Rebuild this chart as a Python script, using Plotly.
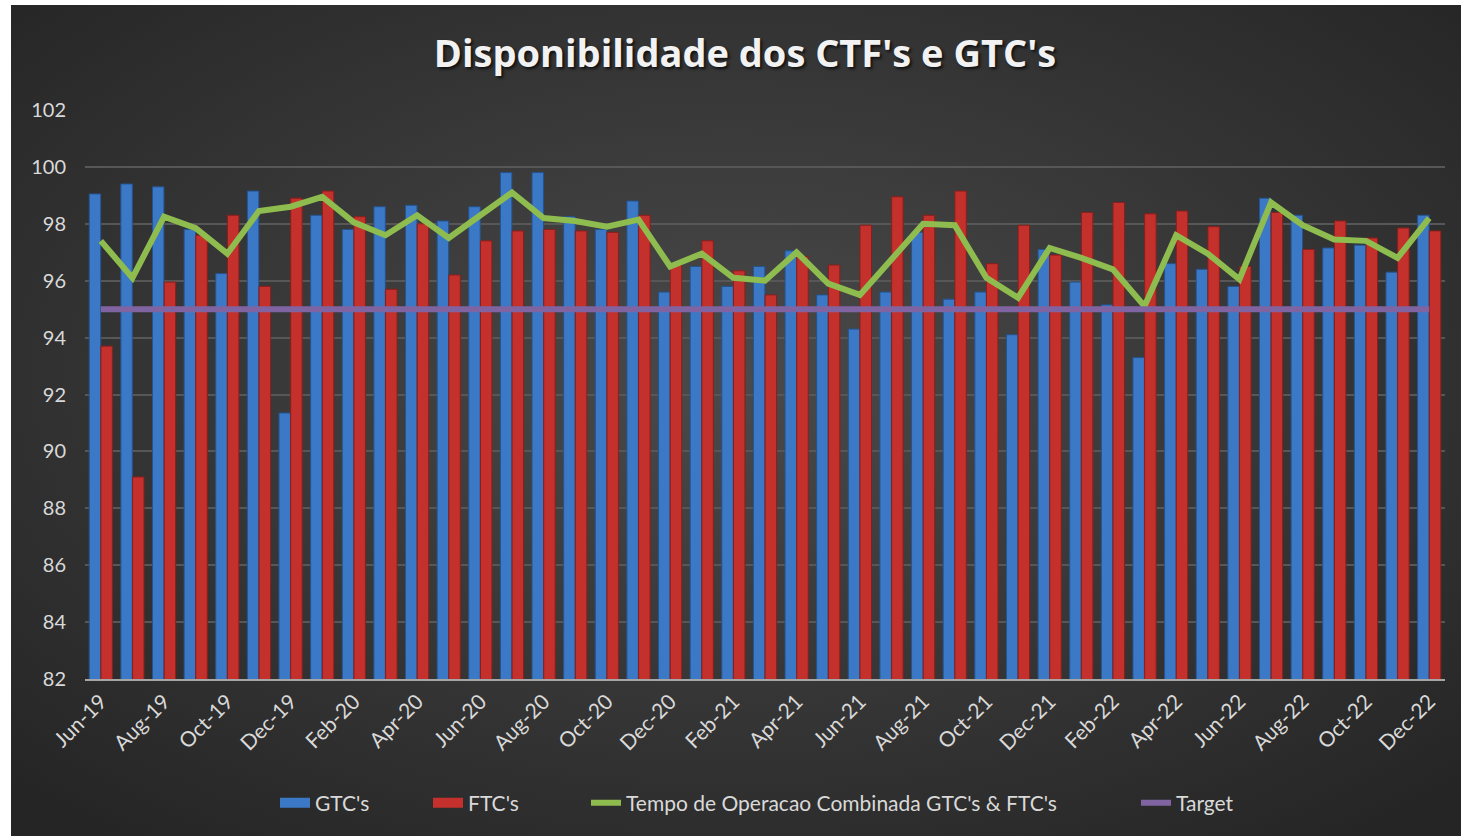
import base64
import plotly.graph_objects as go

# monthly values
months = [
    "Jun-19", "Jul-19", "Aug-19", "Sep-19", "Oct-19", "Nov-19", "Dec-19",
    "Jan-20", "Feb-20", "Mar-20", "Apr-20", "May-20", "Jun-20", "Jul-20",
    "Aug-20", "Sep-20", "Oct-20", "Nov-20", "Dec-20",
    "Jan-21", "Feb-21", "Mar-21", "Apr-21", "May-21", "Jun-21", "Jul-21",
    "Aug-21", "Sep-21", "Oct-21", "Nov-21", "Dec-21",
    "Jan-22", "Feb-22", "Mar-22", "Apr-22", "May-22", "Jun-22", "Jul-22",
    "Aug-22", "Sep-22", "Oct-22", "Nov-22", "Dec-22",
]

gtc = [
    99.05, 99.4, 99.3, 97.8, 96.25, 99.15, 91.35,
    98.3, 97.8, 98.6, 98.65, 98.1, 98.6, 99.8,
    99.8, 98.25, 97.8, 98.8, 95.6,
    96.5, 95.8, 96.5, 97.05, 95.5, 94.3, 95.6,
    97.7, 95.35, 95.6, 94.1, 97.1,
    95.95, 95.15, 93.3, 96.6, 96.4, 95.8, 98.9,
    98.3, 97.15, 97.25, 96.3, 98.3,
]

ftc = [
    93.7, 89.1, 95.95, 97.6, 98.3, 95.8, 98.9,
    99.15, 98.25, 95.7, 98.0, 96.2, 97.4, 97.75,
    97.8, 97.75, 97.7, 98.3, 96.55,
    97.4, 96.35, 95.5, 96.85, 96.55, 97.95, 98.95,
    98.3, 99.15, 96.6, 97.95, 96.9,
    98.4, 98.75, 98.35, 98.45, 97.9, 96.5, 98.4,
    97.1, 98.1, 97.5, 97.85, 97.75,
]

combined = [
    97.4, 96.1, 98.25, 97.85, 96.95, 98.45, 98.6,
    98.95, 98.05, 97.6, 98.3, 97.5, 98.3, 99.1,
    98.2, 98.1, 97.9, 98.15, 96.5,
    96.95, 96.1, 96.0, 97.0, 95.9, 95.5, 96.75,
    98.0, 97.95, 96.1, 95.4, 97.15,
    96.8, 96.4, 95.1, 97.6, 96.95, 96.05, 98.75,
    97.95, 97.45, 97.4, 96.8, 98.2,
]

target = [95] * len(months)

tick_labels = months[::2]

# dark radial background, as an svg image behind the whole chart
bg_svg = (
    '<svg xmlns="http://www.w3.org/2000/svg" width="1450" height="831">'
    '<defs><radialGradient id="g" cx="50%" cy="45%" r="70%">'
    '<stop offset="0" stop-color="#4a4a4a"/>'
    '<stop offset="1" stop-color="#252525"/>'
    '</radialGradient></defs>'
    '<rect width="1450" height="831" fill="url(#g)"/></svg>'
)
bg_src = "data:image/svg+xml;base64," + base64.b64encode(bg_svg.encode()).decode()

W, H = 1461, 836
ml, mr, mt, mb = 85, 16, 110, 157
pw, ph = W - ml - mr, H - mt - mb

font = "Lato, 'Open Sans', sans-serif"
blue, blue_edge = "#3b78c6", "#24538f"
red, red_edge = "#c4302b", "#8a1f1c"
green, purple = "#8fbc4f", "#8064a2"


def legend_x(text_px):
    # legend box left edge so that its text starts near text_px
    return (text_px - 42 - ml) / pw


fig = go.Figure()

fig.add_trace(go.Bar(
    x=months, y=gtc, name="GTC's", legendgroup="gtc", showlegend=False,
    marker=dict(color=blue, line=dict(color=blue_edge, width=1)),
))
fig.add_trace(go.Bar(
    x=months, y=ftc, name="FTC's", legendgroup="ftc", showlegend=False,
    marker=dict(color=red, line=dict(color=red_edge, width=1)),
))
fig.add_trace(go.Scatter(
    x=months, y=combined, mode="lines",
    name="Tempo de Operacao Combinada GTC's & FTC's",
    line=dict(color=green, width=6), legend="legend3",
))
fig.add_trace(go.Scatter(
    x=months, y=target, mode="lines", name="Target",
    line=dict(color=purple, width=6), legend="legend4",
))

# wide legend keys for the bar series (thick line icons look like the flat bars)
fig.add_trace(go.Scatter(
    x=[None], y=[None], mode="lines", name="GTC's", legendgroup="gtc",
    line=dict(color=blue, width=12), legend="legend",
))
fig.add_trace(go.Scatter(
    x=[None], y=[None], mode="lines", name="FTC's", legendgroup="ftc",
    line=dict(color=red, width=12), legend="legend2",
))

fig.add_layout_image(
    source=bg_src, xref="paper", yref="paper",
    x=(11 - ml) / pw, y=(H - mb - 5) / ph,
    sizex=(W - 11) / pw, sizey=(H - 5) / ph,
    xanchor="left", yanchor="top", sizing="stretch", layer="below",
)

leg_y = (H - mb - 803) / ph
leg_common = dict(
    orientation="h", xanchor="left", y=leg_y, yanchor="middle",
    font=dict(family=font, size=21, color="#d9d9d9"),
    bgcolor="rgba(0,0,0,0)",
)

fig.update_layout(
    width=W, height=H,
    margin=dict(l=ml, r=mr, t=mt, b=mb),
    paper_bgcolor="white",
    plot_bgcolor="rgba(0,0,0,0)",
    font=dict(family=font, color="#d9d9d9", size=19),
    title=dict(
        text="<b>Disponibilidade dos CTF's e GTC's</b>",
        x=745 / W, xanchor="center",
        y=1 - 54 / H, yanchor="middle",
        font=dict(family="'Open Sans', sans-serif", size=38, color="#f2f2f2",
                  shadow="2px 2px 3px rgba(0,0,0,0.7)"),
    ),
    barmode="group", bargap=0.26, bargroupgap=0.02,
    showlegend=True,
    legend=dict(x=legend_x(317), **leg_common),
    legend2=dict(x=legend_x(470), **leg_common),
    legend3=dict(x=legend_x(628), **leg_common),
    legend4=dict(x=legend_x(1178), **leg_common),
)

fig.update_xaxes(
    type="category",
    tickmode="array", tickvals=tick_labels, ticktext=tick_labels,
    tickangle=-45, tickfont=dict(size=21, color="#d9d9d9"),
    showgrid=False, showline=True, linecolor="#a6a6a6", linewidth=2,
    ticks="", fixedrange=True,
)
fig.update_yaxes(
    range=[82, 102], dtick=2,
    showgrid=True, gridcolor="#575757", gridwidth=1.5,
    zeroline=False, showline=False, ticks="",
    tickfont=dict(size=20, color="#d9d9d9"),
    ticklabelstandoff=18,
)

fig.write_html(
    "out.html",
    config={"displayModeBar": False},
    post_script="document.body.style.margin='0'; document.body.style.overflow='hidden';",
)
